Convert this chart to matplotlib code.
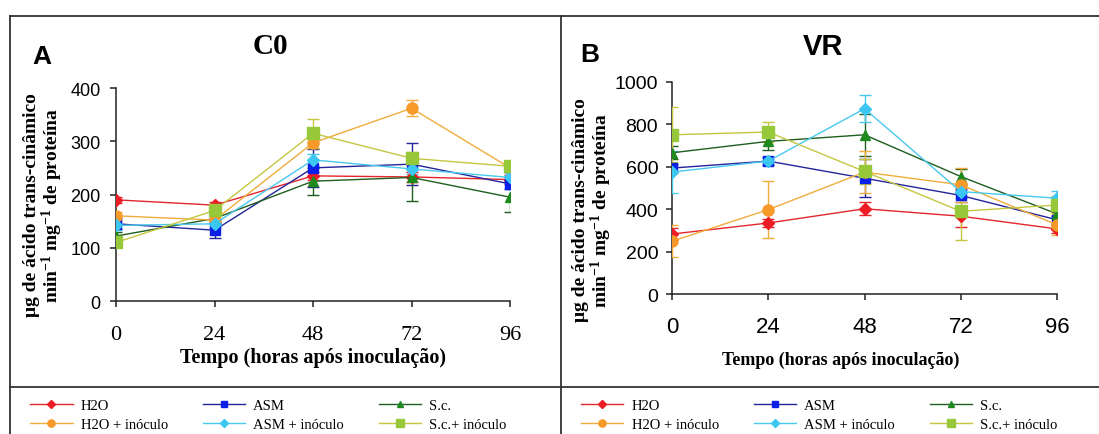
import matplotlib
matplotlib.use("Agg")
import matplotlib.pyplot as plt
from matplotlib.lines import Line2D
import numpy as np

# ---------------- data ----------------
hours = [0, 24, 48, 72, 96]

labels = ["H2O", "ASM", "S.c.", "H2O + inóculo", "ASM + inóculo", "S.c.+ inóculo"]

# panel A - C0
c0_h2o = [190, 180, 235, 233, 228]
c0_asm = [145, 133, 250, 257, 220]
c0_sc = [122, 155, 225, 232, 195]
c0_h2o_inoc = [160, 152, 297, 362, 250]
c0_asm_inoc = [142, 145, 265, 248, 232]
c0_sc_inoc = [110, 170, 315, 268, 253]

c0_h2o_err = [6, 5, 8, 10, 8]
c0_asm_err = [10, 15, 35, 40, 10]
c0_sc_err = [8, 8, 25, 44, 28]
c0_h2o_inoc_err = [8, 8, 10, 15, 8]
c0_asm_inoc_err = [8, 8, 12, 10, 8]
c0_sc_inoc_err = [8, 10, 27, 12, 8]

# panel B - VR
vr_h2o = [283, 335, 402, 367, 307]
vr_asm = [594, 627, 546, 465, 350]
vr_sc = [666, 720, 751, 554, 378]
vr_h2o_inoc = [249, 398, 575, 515, 326]
vr_asm_inoc = [575, 627, 874, 483, 452]
vr_sc_inoc = [751, 764, 578, 390, 420]

vr_h2o_err = [30, 20, 30, 50, 20]
vr_asm_err = [20, 20, 90, 30, 20]
vr_sc_err = [30, 40, 100, 35, 20]
vr_h2o_inoc_err = [75, 135, 100, 80, 50]
vr_asm_inoc_err = [100, 20, 65, 30, 35]
vr_sc_inoc_err = [130, 45, 60, 135, 40]

# styles: line colour, marker colour, marker, size
styles = [
    ("#E2262B", "#EE1C24", "D", 6),
    ("#24249A", "#0B1FE6", "s", 7),
    ("#1E5E1E", "#1E8A1E", "^", 7),
    ("#F0AC3C", "#F79A2A", "o", 8),
    ("#49C8EE", "#3CC6F2", "D", 6),
    ("#C6C642", "#96C83A", "s", 8),
]

plt.rcParams['mathtext.default'] = 'regular'
SERIF = 'Liberation Serif'
SANS = 'Liberation Sans'

fig = plt.figure(figsize=(10.99, 4.35), dpi=100)
fig.patch.set_facecolor('white')


def draw_panel(ax, series, errs, ymax, ystep):
    handles = []
    for vals, err, (lc, mc, mk, ms), lab in zip(series, errs, styles, labels):
        h, = ax.plot(hours, vals, color=lc, lw=1.0, marker=mk, ms=ms,
                     markerfacecolor=mc, markeredgecolor=mc, label=lab, zorder=3)
        ax.errorbar(hours, vals, yerr=err, fmt='none', ecolor=lc, elinewidth=1.0,
                    capsize=4, capthick=1.0, zorder=2)
        handles.append(h)
    ax.set_xlim(0, 96)
    ax.set_ylim(0, ymax)
    ax.set_xticks(hours)
    ax.set_yticks(np.arange(0, ymax + 1, ystep))
    for s in ['top', 'right']:
        ax.spines[s].set_visible(False)
    for s in ['left', 'bottom']:
        ax.spines[s].set_linewidth(1.1)
        ax.spines[s].set_color('#222222')
        ax.spines[s].set_zorder(1)
    ax.spines['left'].set_bounds(0, ymax)
    ax.tick_params(direction='out', length=4, width=1.1, color='#222222')
    ax.patch.set_alpha(0)
    return handles


# panel A
axA = fig.add_axes([0.1056, 0.3057, 0.3585, 0.4897])
hA = draw_panel(axA, [c0_h2o, c0_asm, c0_sc, c0_h2o_inoc, c0_asm_inoc, c0_sc_inoc],
                [c0_h2o_err, c0_asm_err, c0_sc_err, c0_h2o_inoc_err, c0_asm_inoc_err, c0_sc_inoc_err],
                400, 100)
axA.tick_params(axis='y', labelsize=13, pad=7)
axA.tick_params(axis='x', labelsize=16, pad=13)
for t in axA.get_yticklabels():
    t.set_fontfamily(SANS)
for t in axA.get_xticklabels():
    t.set_fontfamily(SERIF)

# panel B
axB = fig.add_axes([0.6115, 0.3218, 0.3503, 0.4874])
hB = draw_panel(axB, [vr_h2o, vr_asm, vr_sc, vr_h2o_inoc, vr_asm_inoc, vr_sc_inoc],
                [vr_h2o_err, vr_asm_err, vr_sc_err, vr_h2o_inoc_err, vr_asm_inoc_err, vr_sc_inoc_err],
                1000, 200)
axB.tick_params(axis='y', labelsize=14, pad=6)
axB.tick_params(axis='x', labelsize=16, pad=12)
for t in axB.get_yticklabels() + axB.get_xticklabels():
    t.set_fontfamily(SANS)

W, H = 1099.0, 435.0


def fx(px):
    return px / W


def fy(py):
    return 1 - py / H


ylab = "μg de ácido trans-cinâmico\nmin$^{-1}$ mg$^{-1}$ de proteína"
fig.text(fx(44), fy(205), ylab, rotation=90, ha='center', va='center',
         fontsize=14, fontweight='bold', family=SERIF, linespacing=1.0)
fig.text(fx(593), fy(210), ylab, rotation=90, ha='center', va='center',
         fontsize=14, fontweight='bold', family=SERIF, linespacing=1.0)

fig.text(fx(313), fy(358), "Tempo (horas após inoculação)", ha='center', va='center',
         fontsize=14.5, fontweight='bold', family=SERIF)
fig.text(fx(841), fy(360), "Tempo (horas após inoculação)", ha='center', va='center',
         fontsize=13, fontweight='bold', family=SERIF)

# titles and panel letters
fig.text(fx(270), fy(47), "C0", ha='center', va='center', fontsize=21,
         fontweight='bold', family=SERIF)
fig.text(fx(823), fy(47), "VR", ha='center', va='center', fontsize=21,
         fontweight='bold', family=SANS)
fig.text(fx(42), fy(57), "A", ha='center', va='center', fontsize=19,
         fontweight='bold', family=SANS)
fig.text(fx(590), fy(55), "B", ha='center', va='center', fontsize=19,
         fontweight='bold', family=SANS)

# frame lines
frame_kw = dict(color='#333333', lw=1.3, transform=fig.transFigure)
fig.add_artist(Line2D([fx(10), 1], [fy(17), fy(17)], **frame_kw))
fig.add_artist(Line2D([fx(10), fx(10)], [fy(17), 0], **frame_kw))
fig.add_artist(Line2D([fx(561), fx(561)], [fy(17), 0], **frame_kw))
fig.add_artist(Line2D([fx(10), 1], [fy(388), fy(388)], **frame_kw))

# legends
order = [0, 3, 1, 4, 2, 5]
for handles, x0 in [(hA, 20), (hB, 571)]:
    fig.legend([handles[i] for i in order], [labels[i] for i in order],
               loc='upper left', bbox_to_anchor=(fx(x0), fy(390)), ncol=3,
               frameon=False, prop={'family': SERIF, 'size': 10.5},
               handlelength=2.9, handletextpad=0.55, columnspacing=2.4,
               labelspacing=0.35, borderpad=0.2, markerscale=0.65)

fig.savefig("out.png", dpi=100, facecolor='white')
